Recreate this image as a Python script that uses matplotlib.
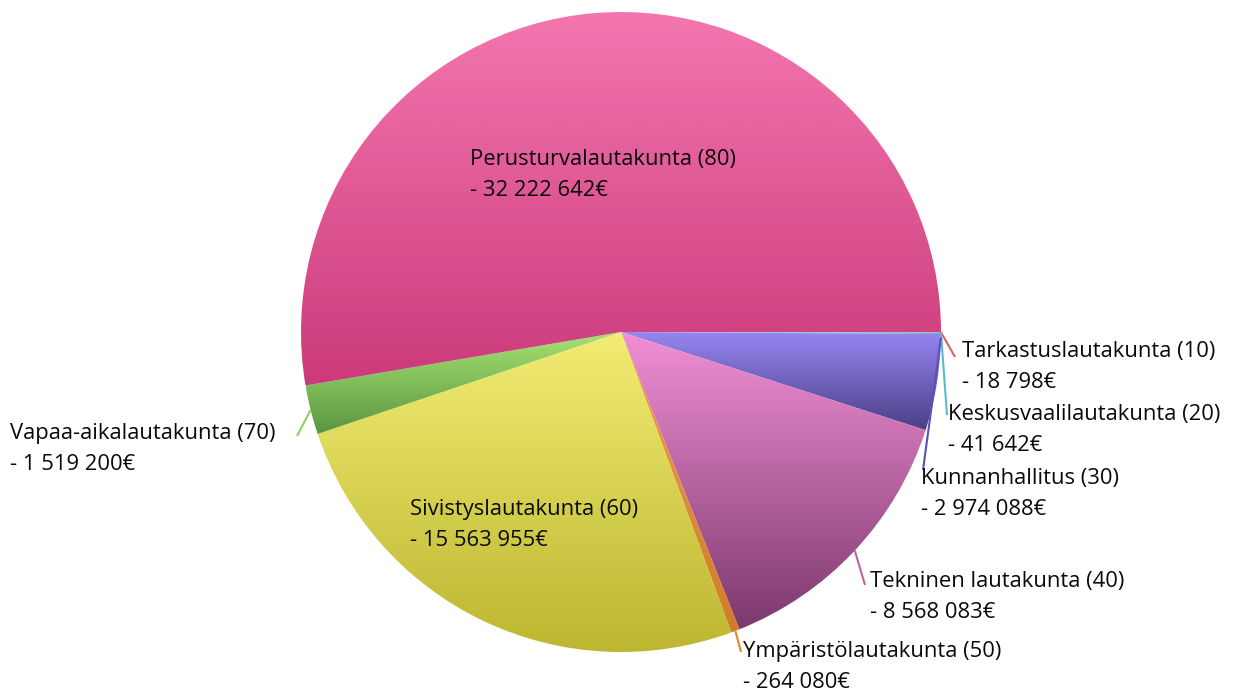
import numpy as np
import matplotlib
matplotlib.use("Agg")
import matplotlib.pyplot as plt
from matplotlib.colors import LinearSegmentedColormap

# ---- data ----
names = ["Tarkastuslautakunta (10)", "Keskusvaalilautakunta (20)", "Kunnanhallitus (30)",
         "Tekninen lautakunta (40)", "Ympäristölautakunta (50)", "Sivistyslautakunta (60)",
         "Vapaa-aikalautakunta (70)", "Perusturvalautakunta (80)"]
values = [18798, 41642, 2974088, 8568083, 264080, 15563955, 1519200, 32222642]
value_labels = ["- 18 798€", "- 41 642€", "- 2 974 088€", "- 8 568 083€", "- 264 080€",
                "- 15 563 955€", "- 1 519 200€", "- 32 222 642€"]
top_colors = ["#ee6f6f", "#7fd6e8", "#9686f2", "#f28fd6", "#f0a050", "#f2ec74", "#a6e272", "#f376af"]
bot_colors = ["#c84848", "#48b0c8", "#4c3f86", "#7c396c", "#d07c28", "#bcb630", "#5a9640", "#cb3a7a"]
leader_colors = ["#e06060", "#5ab8d0", "#5c50b8", "#c060a8", "#e08a30", "#c8c040", "#90d060", "#d04080"]

# ---- layout (pixel coords, y downward in image) ----
W, H = 1236, 693
cx, cy, R = 621, 332, 320
label_pos = [(962, 367), (948, 430), (921, 494), (870, 597), (743, 667), (410, 525), (10, 449), (470, 175)]
leader_end = [(955, 357), (947, 415), (923, 470), (865, 585), (741, 652), None, (297, 436), None]
leader_ang = [None, 0.25, 1.0, None, None, None, None, None]

fig = plt.figure(figsize=(W / 100, H / 100), dpi=100)
ax = fig.add_axes([0, 0, 1, 1])

wedges, _ = ax.pie(values, startangle=0, counterclock=False,
                   center=(cx, H - cy), radius=R, frame=True,
                   wedgeprops=dict(linewidth=0))
ax.set_xlim(0, W)
ax.set_ylim(0, H)
ax.set_aspect("equal")
ax.axis("off")

grad = np.linspace(0, 1, 256).reshape(-1, 1)
for w, tc, bc in zip(wedges, top_colors, bot_colors):
    w.set_facecolor("none")
    t1, t2 = np.radians(w.theta1), np.radians(w.theta2)
    ts = np.linspace(t1, t2, 200)
    xs = np.concatenate([[cx], cx + R * np.cos(ts)])
    ys = np.concatenate([[H - cy], H - cy + R * np.sin(ts)])
    cmap = LinearSegmentedColormap.from_list("g", [bc, tc])
    im = ax.imshow(grad, cmap=cmap, origin="lower", aspect="auto",
                   extent=(xs.min(), xs.max(), ys.min(), ys.max()), interpolation="bilinear",
                   zorder=1)
    im.set_clip_path(w)
ax.set_xlim(0, W)
ax.set_ylim(0, H)

cum = np.cumsum([0] + values)
total = cum[-1]
font = dict(family=["Open Sans", "DejaVu Sans"], fontsize=15.8, color="#0a0a0a")
for i, (n, vl) in enumerate(zip(names, value_labels)):
    lx, ly = label_pos[i]
    ax.text(lx, H - ly, n + "\n" + vl, ha="left", va="center", linespacing=1.62, zorder=5, **font)
    if leader_end[i] is not None:
        if leader_ang[i] is None:
            a = np.radians(360 * (cum[i] + cum[i + 1]) / 2 / total)
        else:
            a = np.radians(leader_ang[i])
        sx, sy = cx + R * np.cos(a), cy + R * np.sin(a)
        ex, ey = leader_end[i]
        ax.plot([sx, ex], [H - sy, H - ey], color=leader_colors[i],
                lw=1.5, zorder=4, solid_capstyle="butt")

fig.savefig("out.png", dpi=100)
